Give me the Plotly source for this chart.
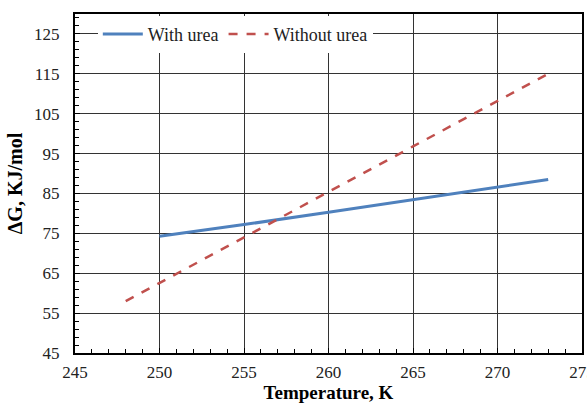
import plotly.graph_objects as go

temp_with = [250, 255, 260, 265, 270, 273]
dg_with = [74.3, 77.2, 80.3, 83.4, 86.6, 88.5]
temp_without = [248, 250, 255, 260, 265, 270, 273]
dg_without = [58.0, 62.6, 74.0, 85.4, 96.8, 108.2, 115.0]

x_ticks = [245, 250, 255, 260, 265, 270, 275]
y_ticks = [45, 55, 65, 75, 85, 95, 105, 115, 125]

font_family = "Liberation Serif, DejaVu Serif, serif"

fig = go.Figure()
fig.add_trace(go.Scatter(x=temp_with, y=dg_with, mode="lines", name="With urea",
                         line=dict(color="#4F81BD", width=3)))
fig.add_trace(go.Scatter(x=temp_without, y=dg_without, mode="lines", name="Without urea",
                         line=dict(color="#C0504D", width=2.5, dash="dash")))

fig.update_layout(
    width=587, height=403,
    margin=dict(l=75, r=5, t=14, b=50),
    paper_bgcolor="white", plot_bgcolor="white",
    font=dict(family=font_family, size=17, color="#222"),
    showlegend=True,
    legend=dict(orientation="h", x=0.045, xanchor="left", y=0.94, yanchor="middle",
                bgcolor="white", font=dict(size=18, family=font_family, color="#222"),
                itemwidth=40, tracegroupgap=0),
)
fig.update_xaxes(
    range=[245, 275], tickvals=x_ticks, ticktext=[str(v) for v in x_ticks],
    showgrid=True, gridcolor="#333", gridwidth=1,
    showline=True, linecolor="black", linewidth=2, mirror=True,
    ticks="inside", ticklen=5, tickcolor="black",
    minor=dict(dtick=1, ticks="inside", ticklen=4, tickcolor="black", showgrid=False),
    zeroline=False, automargin=False, ticklabeloverflow="allow",
    ticklabelstandoff=3,
    title=dict(text="<b>Temperature, K</b>", font=dict(size=19, family=font_family, color="black"), standoff=2),
    tickfont=dict(size=17, family=font_family),
)
fig.update_yaxes(
    range=[45, 130], tickvals=y_ticks, ticktext=[str(v) for v in y_ticks],
    showgrid=True, gridcolor="#333", gridwidth=1,
    showline=True, linecolor="black", linewidth=2, mirror=True,
    ticks="inside", ticklen=5, tickcolor="black",
    minor=dict(tick0=45, dtick=2, ticks="inside", ticklen=4, tickcolor="black", showgrid=False),
    zeroline=False, automargin=False, ticklabelstandoff=10,
    title=dict(text="<b>ΔG, KJ/mol</b>", font=dict(size=20, family=font_family, color="black"), standoff=6),
    tickfont=dict(size=17, family=font_family),
)

fig.write_html("out.html", config={"displayModeBar": False},
               post_script="document.body.style.margin='0';")
